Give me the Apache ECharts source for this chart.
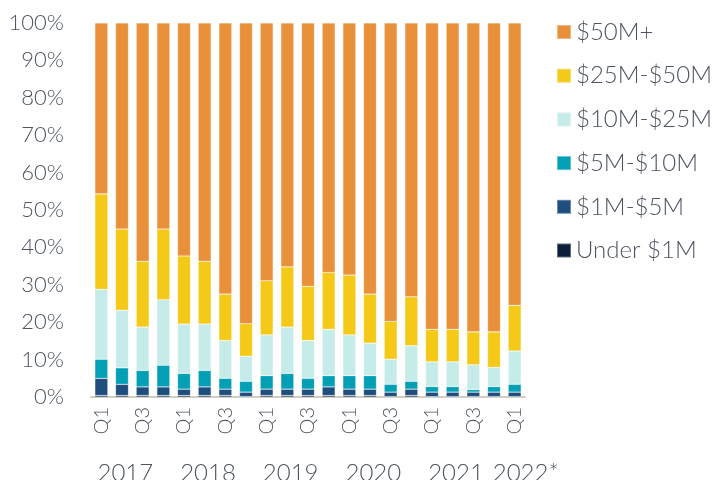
<!DOCTYPE html>
<html>
<head>
<meta charset="utf-8">
<script src="https://cdn.jsdelivr.net/npm/echarts@6/dist/echarts.min.js"></script>
<style>
  html, body { margin: 0; padding: 0; background: #fff; }
  #chart { width: 713px; height: 480px; }
</style>
</head>
<body>
<div id="chart"></div>
<script>
// quarters, 2017 Q1 .. 2022 Q1
const years = ['2017', '2018', '2019', '2020', '2021', '2022*'];
const quartersPerYear = [4, 4, 4, 4, 4, 1];

// share of deal value (%) per bucket
const under1M = [0.4, 0.4, 0.4, 0.4, 0.4, 0.4, 0.4, 0.1, 0.4, 0.4, 0.4, 0.4, 0.4, 0.4, 0.1, 0.4, 0.1, 0.1, 0.1, 0.1, 0.1];
const m1to5 = [4.6, 3.0, 2.3, 2.3, 1.7, 2.3, 1.7, 1.2, 1.7, 1.7, 1.7, 2.3, 1.7, 1.7, 1.2, 1.7, 1.2, 1.2, 1.2, 1.2, 1.2];
const m5to10 = [5.1, 4.4, 4.4, 5.8, 4.2, 4.4, 2.9, 2.9, 3.6, 4.2, 2.9, 3.0, 3.6, 3.6, 2.1, 2.1, 1.5, 1.5, 0.7, 1.5, 2.1];
const m10to25 = [18.7, 15.4, 11.6, 17.5, 13.2, 12.4, 10.1, 6.7, 10.9, 12.4, 10.1, 12.4, 10.9, 8.7, 6.7, 9.5, 6.6, 6.6, 6.6, 5.1, 8.9];
const m25to50 = [25.5, 21.7, 17.6, 18.9, 18.2, 16.8, 12.4, 8.7, 14.5, 16.1, 14.5, 15.2, 16.0, 13.1, 10.1, 13.1, 8.7, 8.7, 8.8, 9.5, 12.2];
const m50plus = [45.7, 55.1, 63.7, 55.1, 62.3, 63.7, 72.5, 80.4, 68.9, 65.2, 70.4, 66.7, 67.4, 72.5, 79.8, 73.2, 81.9, 81.9, 82.6, 82.6, 75.5];

const seriesNames = ['Under $1M', '$1M-$5M', '$5M-$10M', '$10M-$25M', '$25M-$50M', '$50M+'];
const seriesData = [under1M, m1to5, m5to10, m10to25, m25to50, m50plus];
const colors = ['#0b1f3a', '#1f4e7e', '#03a0b5', '#c6ecea', '#f5c918', '#e8903a'];

// quarter labels
const quarters = [];
quartersPerYear.forEach(n => { for (let q = 1; q <= n; q++) quarters.push('Q' + q); });

// year labels on a half-step axis (2 slots per quarter + 1)
const yearSlots = new Array(quarters.length * 2 + 1).fill('');
let start = 0;
years.forEach((y, i) => {
  const mid = start + (quartersPerYear[i] - 1) / 2;
  yearSlots[Math.round(mid * 2 + 1)] = y;
  start += quartersPerYear[i];
});

const textColor = '#4d5560';
const font = 'Lato';
const weight = 300;

const chart = echarts.init(document.getElementById('chart'));
chart.setOption({
  animation: false,
  textStyle: { fontFamily: font, fontWeight: weight },
  grid: { left: 91, right: 188, top: 23, bottom: 83, outerBoundsMode: 'none' },
  legend: {
    orient: 'vertical',
    left: 551,
    top: 15,
    itemWidth: 14,
    itemHeight: 14,
    itemGap: 19.7,
    icon: 'rect',
    data: seriesNames.slice().reverse(),
    textStyle: { fontFamily: font, fontWeight: weight, fontSize: 24, color: textColor, lineHeight: 24 }
  },
  xAxis: [
    {
      type: 'category',
      data: quarters,
      axisLine: { lineStyle: { color: '#d0ccc6', width: 2 } },
      axisTick: { show: false },
      axisLabel: { interval: 1, rotate: 90, fontSize: 20, color: textColor, margin: 10, fontFamily: font, fontWeight: weight }
    },
    {
      type: 'category',
      position: 'bottom',
      data: yearSlots,
      boundaryGap: false,
      axisLine: { show: false },
      axisTick: { show: false },
      axisLabel: {
        interval: 0,
        margin: 64,
        fontSize: 24,
        color: textColor,
        fontFamily: font,
        fontWeight: weight,
        padding: [0, 14, 0, 0],
        formatter: v => (v.indexOf('*') >= 0 ? '{s|' + v + '}' : v),
        rich: { s: { fontSize: 24, color: textColor, fontFamily: font, fontWeight: weight, padding: [0, 0, 0, 36] } }
      }
    }
  ],
  yAxis: {
    type: 'value',
    min: 0,
    max: 100,
    interval: 10,
    splitLine: { show: false },
    axisLine: { show: false },
    axisTick: { show: false },
    axisLabel: { formatter: '{value}%', fontSize: 22, color: textColor, margin: 27, fontFamily: font, fontWeight: weight }
  },
  series: seriesNames.map((name, i) => ({
    name: name,
    type: 'bar',
    stack: 'total',
    barWidth: 13,
    data: seriesData[i],
    itemStyle: { color: colors[i], borderColor: 'rgba(255,255,255,0.35)', borderWidth: 0.6 }
  }))
});
</script>
</body>
</html>
